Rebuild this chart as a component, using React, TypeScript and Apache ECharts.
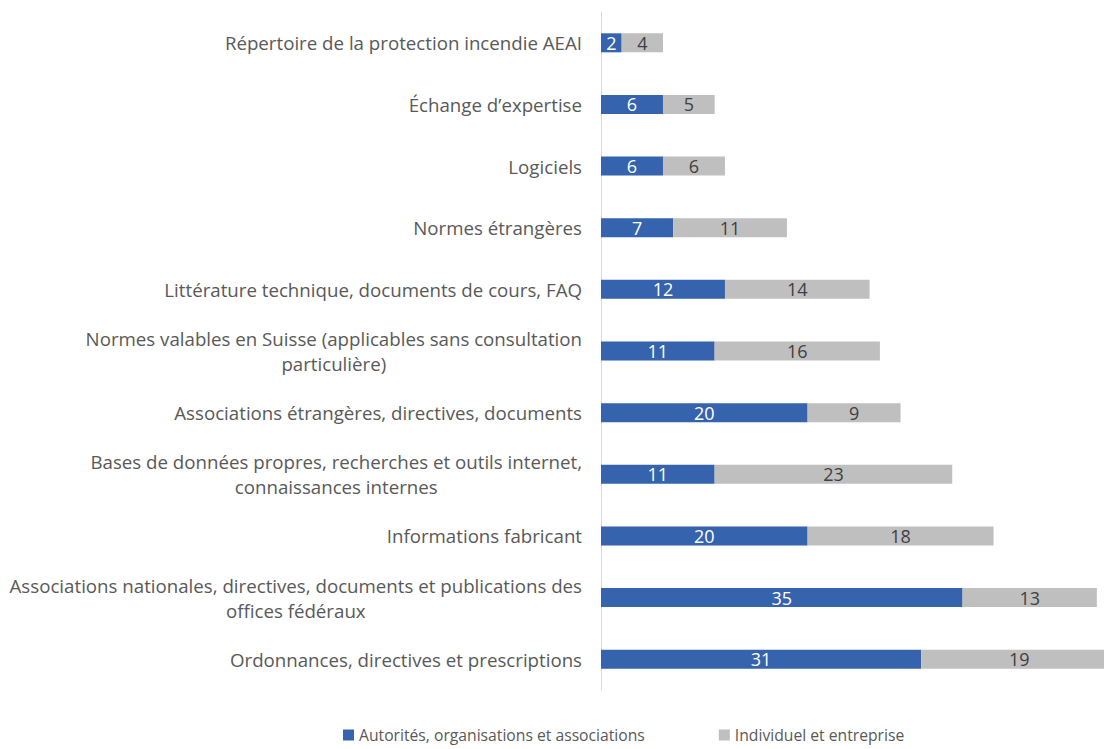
import React, { useEffect, useRef } from "react";
import * as echarts from "echarts";

const categories = [
  "Répertoire de la protection incendie AEAI",
  "Échange d’expertise",
  "Logiciels",
  "Normes étrangères",
  "Littérature technique, documents de cours, FAQ",
  "Normes valables en Suisse (applicables sans consultation\nparticulière)",
  "Associations étrangères, directives, documents",
  "Bases de données propres, recherches et outils internet,\nconnaissances internes",
  "Informations fabricant",
  "Associations nationales, directives, documents et publications des\noffices fédéraux",
  "Ordonnances, directives et prescriptions",
];

const autorites = [2, 6, 6, 7, 12, 11, 20, 11, 20, 35, 31];
const individuel = [4, 5, 6, 11, 14, 16, 9, 23, 18, 13, 19];

const seriesNames = ["Autorités, organisations et associations", "Individuel et entreprise"];

const FONT = "'Open Sans', 'Noto Sans', sans-serif";
const CAT_SIZE = 18.7;
const LBL_SIZE = 18;

export default function App() {
  const ref = useRef<HTMLDivElement>(null);
  useEffect(() => {
    if (!ref.current) return;
    const chart = echarts.init(ref.current, undefined, { renderer: "svg" });
    chart.setOption({
      animation: false,
      textStyle: { fontFamily: FONT },
      grid: { left: 601, top: 12, height: 678, width: 516.5 },
      legend: {
        top: 727,
        left: 343,
        padding: 0,
        itemWidth: 11,
        itemHeight: 11,
        itemGap: 74,
        icon: "rect",
        textStyle: { fontSize: 15.7, color: "#595959", fontFamily: FONT },
        data: seriesNames,
      },
      xAxis: {
        type: "value",
        min: 0,
        max: 50,
        show: false,
        splitLine: { show: false },
      },
      yAxis: {
        type: "category",
        inverse: true,
        data: categories,
        axisLine: { show: true, lineStyle: { color: "#d9d9d9", width: 1 } },
        axisTick: { show: false },
        axisLabel: {
          margin: 19,
          fontSize: CAT_SIZE,
          color: "#595959",
          fontFamily: FONT,
          lineHeight: 25,
          formatter: (v: string) =>
            v
              .split("\n")
              .map((l) => `{c|${l}}`)
              .join("\n"),
          rich: {
            c: { align: "center", fontSize: CAT_SIZE, color: "#595959", fontFamily: FONT, lineHeight: 25 },
          },
        },
      },
      series: [
        {
          name: seriesNames[0],
          type: "bar",
          stack: "total",
          barWidth: 19,
          data: autorites,
          itemStyle: { color: "#3563AD" },
          label: { show: true, position: "inside", color: "#ffffff", fontSize: LBL_SIZE, fontFamily: FONT },
        },
        {
          name: seriesNames[1],
          type: "bar",
          stack: "total",
          barWidth: 19,
          data: individuel,
          itemStyle: { color: "#BFBFBF" },
          label: { show: true, position: "inside", color: "#404040", fontSize: LBL_SIZE, fontFamily: FONT },
        },
      ],
    });
    return () => chart.dispose();
  }, []);
  return (
    <div style={{ position: "absolute", left: 0, top: 0, width: 1104, height: 749, overflow: "hidden", background: "#fff" }}>
      <div ref={ref} style={{ width: 1120, height: 749 }} />
    </div>
  );
}
